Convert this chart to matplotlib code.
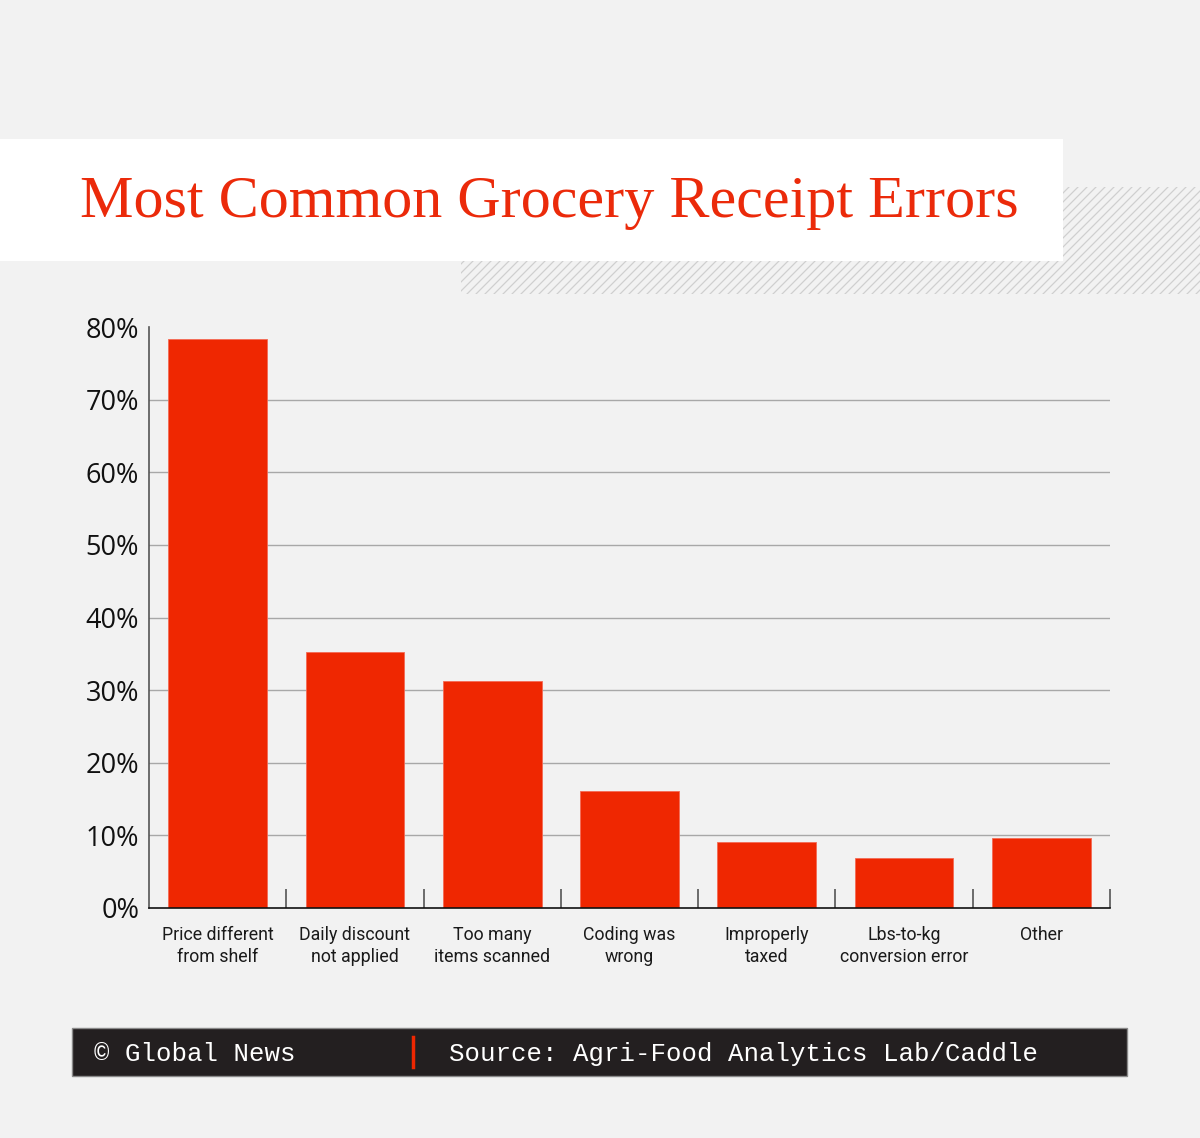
import matplotlib
matplotlib.use("Agg")
import matplotlib.pyplot as plt
from matplotlib.patches import Rectangle
import numpy as np

# ---- data ----
categories = ["Price different\nfrom shelf", "Daily discount\nnot applied", "Too many\nitems scanned",
              "Coding was\nwrong", "Improperly\ntaxed", "Lbs-to-kg\nconversion error", "Other"]
values = [78.4, 35.3, 31.3, 16.1, 9.1, 6.9, 9.6]
yticks = [0, 10, 20, 30, 40, 50, 60, 70, 80]
ytick_labels = ["0%", "10%", "20%", "30%", "40%", "50%", "60%", "70%", "80%"]
title = "Most Common Grocery Receipt Errors"
footer_left = "© Global News"
footer_right = "Source: Agri-Food Analytics Lab/Caddle"

W, H = 1200, 1138
BG = "#F2F2F2"
RED = "#EF2701"
fig = plt.figure(figsize=(W / 100, H / 100), dpi=100, facecolor=BG)

def fx(px):
    return px / W

def fy(py):
    return 1 - py / H

# ---- decorative hatch band ----
deco = fig.add_axes([0, 0, 1, 1], zorder=0)
deco.set_xlim(0, W)
deco.set_ylim(H, 0)
deco.axis("off")
clip = Rectangle((461, 187), W - 461, 294 - 187, transform=deco.transData, facecolor="none", edgecolor="none")
deco.add_patch(clip)
for x0 in np.arange(461 - 120, W + 10, 9.0):
    ln, = deco.plot([x0, x0 + 107], [294, 187], color="#CFCFCF", lw=0.9)
    ln.set_clip_path(clip)
deco.add_patch(Rectangle((0, 139), 1063, 261 - 139, facecolor="white", edgecolor="none", zorder=3))
deco.text(80, 217, title, color="#EB2A0A", fontsize=43.3, family=["Liberation Serif", "DejaVu Serif"],
          va="baseline", ha="left", zorder=4)

# footer
deco.add_patch(Rectangle((72, 1028), 1127 - 72, 1076 - 1028, facecolor="#231F20",
                         edgecolor="#8A8A8A", lw=1.0, zorder=3))
deco.plot([413, 413], [1037, 1067], color=RED, lw=2.5, zorder=4)
deco.text(94, 1054, footer_left, color="white", fontsize=18.5,
          family=["Liberation Mono", "DejaVu Sans Mono"], va="center", ha="left", zorder=4)
deco.text(449, 1054, footer_right, color="white", fontsize=18.5,
          family=["Liberation Mono", "DejaVu Sans Mono"], va="center", ha="left", zorder=4)

# ---- chart ----
left, right, bottom, top = 149, 1110, 908, 327
ax = fig.add_axes([fx(left), fy(bottom), fx(right - left), fy(top) - fy(bottom)], zorder=2)
ax.set_facecolor("none")
x = np.arange(len(categories))
for yv in yticks[1:-1]:
    ax.axhline(yv, color="#A8A8A8", lw=1.0, zorder=1)
ax.bar(x, values, width=0.72, color=RED, edgecolor="#F46A55", lw=0.6, zorder=2)
ax.set_xlim(-0.5, 6.5)
ax.set_ylim(0, 80)
ax.set_yticks(yticks)
ax.set_yticklabels(ytick_labels, family=["Open Sans", "DejaVu Sans"], fontsize=19.5, color="#111111")
ax.tick_params(axis="y", length=0, pad=7)
ax.set_xticks(x)
ax.set_xticklabels(categories, family=["Liberation Sans Narrow", "Roboto"], fontsize=12.8,
                   color="#1A1A1A", linespacing=1.28)
ax.tick_params(axis="x", which="major", length=0, pad=13)
ax.set_xticks(np.arange(len(categories)) + 0.5, minor=True)
ax.tick_params(axis="x", which="minor", direction="in", length=14, width=1.2, color="#555555")
for s in ["top", "right"]:
    ax.spines[s].set_visible(False)
ax.spines["left"].set_color("#555555")
ax.spines["left"].set_linewidth(1.2)
ax.spines["bottom"].set_color("#111111")
ax.spines["bottom"].set_linewidth(1.2)
ax.spines["bottom"].set_zorder(3)

fig.savefig("out.png", dpi=100, facecolor=BG)
